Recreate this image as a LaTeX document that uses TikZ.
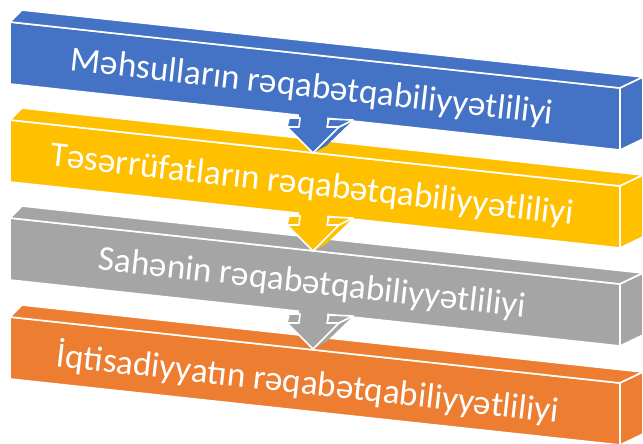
\documentclass[tikz,border=0pt]{standalone}
\usepackage{fontspec}
\setmainfont{Carlito}
\definecolor{bandblue}{HTML}{4472C4}
\definecolor{bandgold}{HTML}{FFC000}
\definecolor{bandgray}{HTML}{A5A5A5}
\definecolor{bandorange}{HTML}{ED7D31}
\tikzset{
  bandface/.style={draw=white,line width=1.4pt,line join=round},
  bandtext/.style={text=white,font=\fontsize{30}{34}\selectfont,rotate=-6.4,inner sep=0pt}
}
% one slanted box: colour, vertical offset
\newcommand{\band}[2]{%
  \begin{scope}[shift={(0,#2)}]
    \filldraw[bandface,fill=#1] (10,22) -- (620,88) -- (620,150) -- (10,84) -- cycle;
    \filldraw[bandface,fill=#1] (10,22) -- (22,10) -- (643,77) -- (620,88) -- cycle;
    \filldraw[bandface,fill=#1] (620,88) -- (643,77) -- (643,139) -- (620,150) -- cycle;
  \end{scope}}
% block arrow under a box: colour, vertical offset
\newcommand{\bandarrow}[2]{%
  \begin{scope}[shift={(0,#2)}]
    \fill[#1] (299,100) -- (327,100) -- (327,127) -- (339,127) -- (313,153) -- (287,127) -- (299,127) -- cycle;
    \fill[#1] (339,127) -- (353,120) -- (326,146) -- (313,153) -- cycle;
    \filldraw[bandface,fill=#1] (287,127) -- (299,127) -- (300,118) -- (289,118) -- cycle;
    \filldraw[bandface,fill=#1] (327,127) -- (339,127) -- (353,120) -- (329,119) -- cycle;
    \draw[bandface] (287,127) -- (313,153) -- (339,127);
  \end{scope}}

\begin{document}
\begin{tikzpicture}[x=0.03cm,y=-0.03cm]
    \useasboundingbox (0,0) rectangle (643,443);
    \clip (0,0) rectangle (643,443);

    % Boxes
    \band{bandblue}{0}
    \band{bandgold}{98}
    \band{bandgray}{196}
    \band{bandorange}{295}

    % Arrows
    \bandarrow{bandblue}{0}
    \bandarrow{bandgold}{98}
    \bandarrow{bandgray}{196}

    % Labels
    \node[bandtext] (mehsul) at (312,88) {Məhsulların rəqabətqabiliyyətliliyi};
    \node[bandtext] (teserruf) at (312,186) {Təsərrüfatların rəqabətqabiliyyətliliyi};
    \node[bandtext] (sahe) at (312,284) {Sahənin rəqabətqabiliyyətliliyi};
    \node[bandtext] (iqtisad) at (308,383) {İqtisadiyyatın rəqabətqabiliyyətliliyi};
\end{tikzpicture}
\end{document}
